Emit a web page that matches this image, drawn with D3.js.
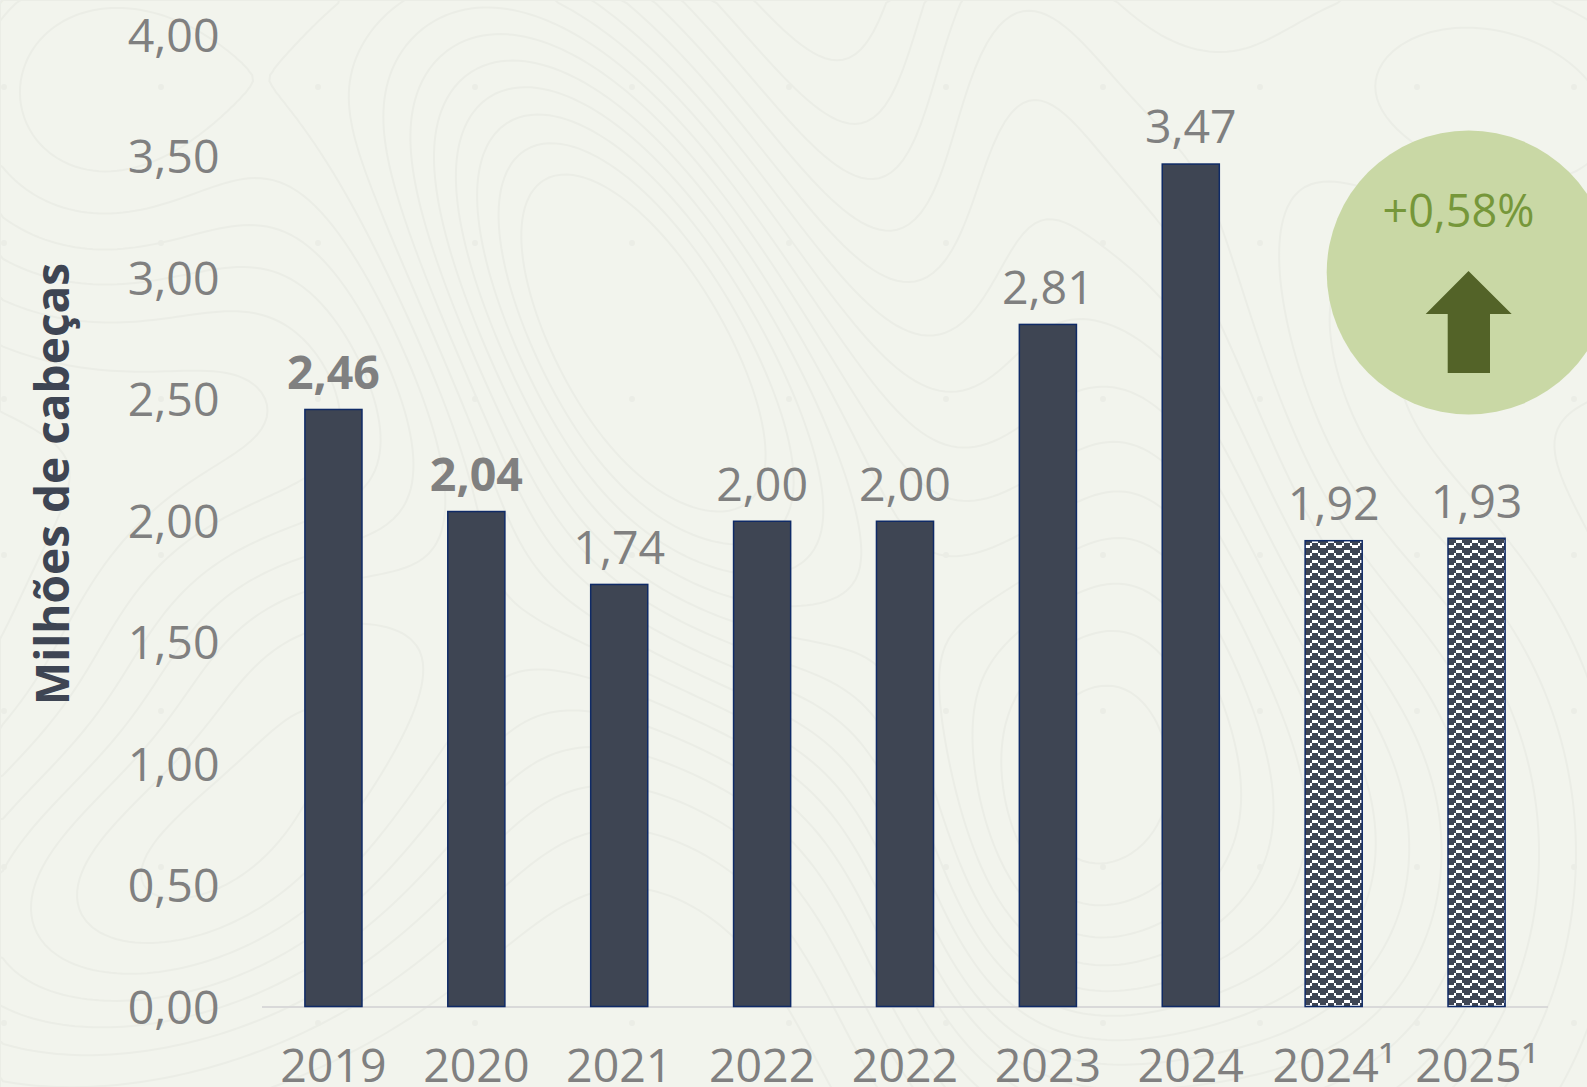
<!DOCTYPE html>
<html lang="pt">
<head>
<meta charset="utf-8">
<title>Milhões de cabeças</title>
<script src="https://cdn.jsdelivr.net/npm/d3@7"></script>
<style>
  html, body { margin: 0; padding: 0; background: #f2f4ed; overflow: hidden; }
  svg { display: block; }
  text { font-family: "Open Sans", sans-serif; }
  .axis path, .axis line { display: none; }
  .axis text { font-size: 46.5px; fill: #808080; font-family: "Open Sans", sans-serif; }
</style>
</head>
<body>
<div id="chart"></div>
<script>
const categories = [`2019`, `2020`, `2021`, `2022`, `2022`, `2023`, `2024`, `2024¹`, `2025¹`];
const values = [2.46, 2.04, 1.74, 2.00, 2.00, 2.81, 3.47, 1.92, 1.93];
const boldLabels = [`2019`, `2020`];
const forecastCategories = [`2024¹`, `2025¹`];
const yTicks = [0, 0.5, 1, 1.5, 2, 2.5, 3, 3.5, 4];
const yTitle = `Milhões de cabeças`;
const changeLabel = `+0,58%`;

const width = 1587;
const height = 1087;
const baseline = 1006.5;
const plotTop = 34.5;
const barStroke = 1.5;

const ptBR = d3.formatLocale({ decimal: `,`, thousands: `.`, grouping: [3], currency: [`R$`, ``] });
const fmt = ptBR.format(`.2f`);

const x = d3.scaleBand()
  .domain(d3.range(categories.length))
  .range([262, 1548])
  .paddingInner(0.59)
  .paddingOuter(0.295);

const y = d3.scaleLinear()
  .domain([0, 4])
  .range([baseline, plotTop]);

const svg = d3.select(`#chart`).append(`svg`)
  .attr(`width`, width)
  .attr(`height`, height);

svg.append(`rect`)
  .attr(`width`, width)
  .attr(`height`, height)
  .attr(`fill`, `#f2f4ed`);

drawBackdrop();

// zigzag fill of the two forecast bars, stepped like the office hatch it copies
const defs = svg.append(`defs`);
const zig = defs.append(`pattern`)
  .attr(`id`, `zigzag`)
  .attr(`patternUnits`, `userSpaceOnUse`)
  .attr(`width`, 16)
  .attr(`height`, 10);
zig.append(`rect`)
  .attr(`width`, 16)
  .attr(`height`, 10)
  .attr(`fill`, `#3e4553`);
zig.selectAll(`rect.step`)
  .data([0, 0, 0, 3, 5, 5, 5, 3])
  .enter().append(`rect`)
    .attr(`class`, `step`)
    .attr(`x`, (d, i) => i * 2)
    .attr(`y`, (d) => d)
    .attr(`width`, 2)
    .attr(`height`, 3)
    .attr(`fill`, `#ffffff`)
    .attr(`shape-rendering`, `crispEdges`);

svg.append(`g`)
    .attr(`class`, `axis`)
    .attr(`transform`, `translate(219.5,0)`)
    .call(d3.axisLeft(y).tickValues(yTicks).tickSize(0).tickPadding(0).tickFormat(fmt))
  .selectAll(`text`)
    .attr(`dy`, `0.36em`);

svg.append(`line`)
  .attr(`x1`, x.range()[0])
  .attr(`x2`, x.range()[1])
  .attr(`y1`, baseline + 0.5)
  .attr(`y2`, baseline + 0.5)
  .attr(`stroke`, `#d9d9d9`)
  .attr(`stroke-width`, 2);

// stroke sits inside the band so the outer edge matches bandwidth
svg.append(`g`)
  .selectAll(`rect`)
  .data(values)
  .enter().append(`rect`)
    .attr(`x`, (d, i) => x(i) + barStroke / 2)
    .attr(`y`, (d) => y(d) + barStroke / 2)
    .attr(`width`, x.bandwidth() - barStroke)
    .attr(`height`, (d) => baseline - y(d) - barStroke / 2)
    .attr(`fill`, (d, i) => forecastCategories.includes(categories[i]) ? `url(#zigzag)` : `#3e4553`)
    .attr(`stroke`, `#0f2a66`)
    .attr(`stroke-width`, barStroke);

svg.append(`g`)
  .selectAll(`text`)
  .data(values)
  .enter().append(`text`)
    .attr(`x`, (d, i) => x(i) + x.bandwidth() / 2)
    .attr(`y`, (d) => y(d) - 20)
    .attr(`text-anchor`, `middle`)
    .attr(`font-size`, 46.5)
    .attr(`font-weight`, (d, i) => boldLabels.includes(categories[i]) ? 700 : 400)
    .attr(`fill`, `#808080`)
    .text((d) => fmt(d));

svg.append(`g`)
    .attr(`class`, `axis`)
    .attr(`transform`, `translate(0,${baseline})`)
    .call(d3.axisBottom(x).tickSize(0).tickPadding(0).tickFormat((i) => categories[i]))
  .selectAll(`text`)
    .attr(`y`, 75.5)
    .attr(`dy`, 0);

svg.append(`text`)
  .attr(`transform`, `translate(69,484) rotate(-90) scale(1,1.03)`)
  .attr(`text-anchor`, `middle`)
  .attr(`font-size`, 46)
  .attr(`font-weight`, 700)
  .attr(`fill`, `#3e4553`)
  .text(yTitle);

const badge = svg.append(`g`);
badge.append(`circle`)
  .attr(`cx`, 1468.7)
  .attr(`cy`, 272.5)
  .attr(`r`, 142)
  .attr(`fill`, `#c9d8a5`);
badge.append(`text`)
  .attr(`x`, 1458.5)
  .attr(`y`, 227)
  .attr(`text-anchor`, `middle`)
  .attr(`font-size`, 45)
  .attr(`fill`, `#76973a`)
  .text(changeLabel);
badge.append(`path`)
  .attr(`d`, `M1468.5,271L1511.7,314H1490V373H1447.7V314H1425.7Z`)
  .attr(`fill`, `#536328`);

function drawBackdrop() {
  // faint topographic texture behind the chart, purely decorative
  const cell = 6;
  const nx = Math.ceil(width / cell) + 1;
  const ny = Math.ceil(height / cell) + 1;
  const hills = [
    [590, 270, 150, 260, 1.0, 0.35],
    [800, 520, 170, 260, 0.55, 0.5],
    [90, 90, 170, 170, 0.6, 0],
    [170, 880, 190, 130, 0.6, -0.5],
    [330, 640, 170, 120, 0.45, 0],
    [1150, 500, 110, 280, 0.55, 0],
    [1300, 850, 190, 240, 0.7, 0],
    [1020, 880, 110, 190, 0.45, 0],
    [1500, 100, 200, 150, 0.45, 0.4],
    [1000, 130, 90, 260, 0.35, 0]
  ];
  const field = new Float64Array(nx * ny);
  for (let j = 0; j < ny; j++) {
    for (let i = 0; i < nx; i++) {
      const px = i * cell;
      const py = j * cell;
      let v = 0;
      hills.forEach(([cx, cy, sx, sy, amp, skew]) => {
        const dy = py - cy;
        const dx = px - cx - skew * dy;
        v += amp * Math.exp(-(dx * dx) / (2 * sx * sx) - (dy * dy) / (2 * sy * sy));
      });
      field[j * nx + i] = v;
    }
  }
  const contours = d3.contours()
    .size([nx, ny])
    .thresholds(d3.range(0.1, 1.2, 0.075))(field);
  const path = d3.geoPath(d3.geoTransform({
    point(a, b) { this.stream.point(a * cell, b * cell); }
  }));
  svg.append(`g`)
    .attr(`fill`, `none`)
    .attr(`stroke`, `#ebede6`)
    .attr(`stroke-width`, 2)
    .selectAll(`path`)
    .data(contours)
    .enter().append(`path`)
      .attr(`d`, path);

  const dots = d3.cross(d3.range(4, width, 157), d3.range(87, height, 156));
  svg.append(`g`)
    .attr(`fill`, `#ebede6`)
    .selectAll(`circle`)
    .data(dots)
    .enter().append(`circle`)
      .attr(`cx`, (d) => d[0])
      .attr(`cy`, (d) => d[1])
      .attr(`r`, 3);
}
</script>
</body>
</html>
